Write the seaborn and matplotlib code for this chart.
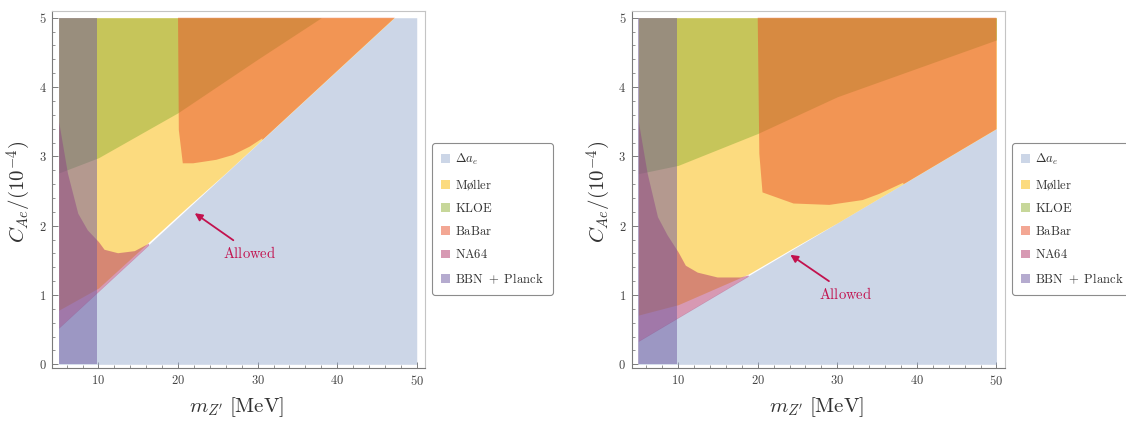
import numpy as np
import matplotlib
matplotlib.use("Agg")
import matplotlib.pyplot as plt
from matplotlib.patches import Patch
from matplotlib.ticker import MultipleLocator, FuncFormatter
import seaborn as sns

# ---------------- data ----------------
labels = [r"$\Delta a_e$", r"$\mathrm{Møller}$", r"$\mathrm{KLOE}$",
          r"$\mathrm{BaBar}$", r"$\mathrm{NA64}$", r"$\mathrm{BBN\ +\ Planck}$"]

# left panel
A_blue_x = [5, 50]
A_blue_y = [0.53, 5.30]
A_moller_x = [5, 10, 16.3, 21, 26, 50]
A_moller_y = [0.78, 1.10, 1.76, 2.25, 2.76, 5.30]
A_na64_x = [5.0, 6.1, 7.4, 8.6, 10.0, 10.7, 12.4, 14.5, 16.3]
A_na64_y = [3.50, 2.76, 2.18, 1.94, 1.77, 1.66, 1.61, 1.64, 1.75]
A_kloe_x = [5, 10, 20, 30, 38, 50]
A_kloe_y = [2.76, 2.98, 3.63, 4.40, 5.00, 5.90]
A_babar_x = [20.0, 20.1, 20.6, 21.9, 24.8, 26.9, 29.0, 30.6]
A_babar_y = [5.00, 3.38, 2.90, 2.90, 2.95, 3.02, 3.14, 3.26]
A_bbn_x = [5, 9.8]
A_arrow = [(26.95, 1.79), (22.1, 2.18)]
A_text = (29.05, 1.60)

# right panel
B_blue_x = [5, 50]
B_blue_y = [0.34, 3.40]
B_moller_x = [5, 10, 18.8, 24, 30, 50]
B_moller_y = [0.71, 0.86, 1.30, 1.648, 2.04, 3.40]
B_na64_x = [5.0, 6.1, 7.4, 8.6, 10.0, 10.9, 12.4, 14.9, 17.8, 18.8]
B_na64_y = [3.50, 2.76, 2.13, 1.87, 1.62, 1.43, 1.33, 1.26, 1.26, 1.29]
B_kloe_x = [5, 10, 20, 30, 50]
B_kloe_y = [2.75, 2.87, 3.33, 3.86, 4.68]
B_babar_x = [20.0, 20.2, 20.6, 24.5, 29.0, 33.2, 35.3, 38.3]
B_babar_y = [5.00, 3.04, 2.48, 2.32, 2.30, 2.37, 2.46, 2.62]
B_bbn_x = [5, 9.8]
B_arrow = [(28.95, 1.20), (24.1, 1.58)]
B_text = (31.0, 1.01)

# ---------------- style ----------------
sns.set_theme(style="white")
plt.rcParams["mathtext.fontset"] = "cm"
plt.rcParams["font.family"] = ["DejaVu Serif"]

C_BLUE = "#9BAFD1"
C_YEL = "#FBB900"
C_KLOE = "#91B036"
C_BABAR = "#E9502A"
C_NA64 = "#B13569"
C_BBN = "#6D59A0"
ALPHA = 0.5
RED = "#C2124E"
AX_GREY = "#7a7a7a"
SEAM = 0.008  # tiny overlap so adjacent antialiased edges leave no white seam

fig = plt.figure(figsize=(11.26, 4.23), dpi=100)
axA = fig.add_axes([52 / 1126, 1 - 368 / 423, 373 / 1126, 357 / 423])
axB = fig.add_axes([631.7 / 1126, 1 - 368 / 423, 373 / 1126, 357 / 423])


def draw_panel(ax, blue_x, blue_y, mol_x, mol_y, na_x, na_y, kl_x, kl_y,
               bb_x, bb_y, bbn_x, arrow, text):
    xg = np.linspace(5, 50, 1801)
    blue = np.interp(xg, blue_x, blue_y)
    # Delta a_e
    ax.fill_between(xg, 0, np.minimum(blue, 5), color=C_BLUE, alpha=ALPHA, lw=0)
    # Moller
    mol = np.minimum(np.interp(xg, mol_x, mol_y), 5)
    ax.fill_between(xg, mol, 5, color=C_YEL, alpha=ALPHA, lw=0)
    # KLOE
    kl = np.minimum(np.interp(xg, kl_x, kl_y), 5)
    ax.fill_between(xg, kl, 5, color=C_KLOE, alpha=ALPHA, lw=0)
    # BaBar polygon: curve then along the Delta a_e line
    xl = np.linspace(bb_x[-1], 50, 400)
    yl = np.minimum(np.interp(xl, blue_x, blue_y) - SEAM, 5)
    px = list(bb_x) + list(xl) + [50, bb_x[0]]
    py = list(bb_y) + list(yl) + [5, 5]
    ax.fill(px, py, color=C_BABAR, alpha=ALPHA, lw=0)
    # NA64
    m = xg <= na_x[-1]
    ax.fill_between(xg[m], blue[m] - SEAM, np.interp(xg[m], na_x, na_y),
                    color=C_NA64, alpha=ALPHA, lw=0)
    # BBN + Planck
    ax.fill_between(bbn_x, 0, 5, color=C_BBN, alpha=ALPHA, lw=0)

    ax.annotate("", xy=arrow[1], xytext=arrow[0],
                arrowprops=dict(arrowstyle="-|>", color=RED, lw=1.3,
                                mutation_scale=11, shrinkA=0, shrinkB=0))
    ax.text(text[0], text[1], r"$\mathrm{Allowed}$", color=RED, fontsize=10.5,
            ha="center", va="center")

    ax.set_xlim(4.16, 51.04)
    ax.set_ylim(-0.053, 5.097)
    ax.xaxis.set_major_locator(MultipleLocator(10))
    ax.xaxis.set_minor_locator(MultipleLocator(2))
    ax.yaxis.set_major_locator(MultipleLocator(1))
    ax.yaxis.set_minor_locator(MultipleLocator(0.2))
    fmt = FuncFormatter(lambda v, p: f"${int(round(v))}$")
    ax.xaxis.set_major_formatter(fmt)
    ax.yaxis.set_major_formatter(fmt)
    ax.tick_params(which="both", direction="in", bottom=True, left=True,
                   top=False, right=False, colors="#666666", labelsize=9,
                   labelcolor="#444444")
    ax.tick_params(which="major", length=4.5, width=0.6, pad=4)
    ax.tick_params(which="minor", length=2.5, width=0.5)
    for s in ["left", "bottom"]:
        ax.spines[s].set_color(AX_GREY)
        ax.spines[s].set_linewidth(0.8)
    for s in ["top", "right"]:
        ax.spines[s].set_color("#c4c4c4")
        ax.spines[s].set_linewidth(0.8)
    ax.set_xlabel(r"$m_{Z'}\;[\mathrm{MeV}]$", fontsize=15, color="#333333")
    ax.set_ylabel(r"$C_{Ae}/(10^{-4})$", fontsize=15, color="#333333")
    ax.xaxis.set_label_coords(0.496, -0.075)
    ax.yaxis.set_label_coords(-0.05, 0.494)


draw_panel(axA, A_blue_x, A_blue_y, A_moller_x, A_moller_y, A_na64_x, A_na64_y,
           A_kloe_x, A_kloe_y, A_babar_x, A_babar_y, A_bbn_x, A_arrow, A_text)
draw_panel(axB, B_blue_x, B_blue_y, B_moller_x, B_moller_y, B_na64_x, B_na64_y,
           B_kloe_x, B_kloe_y, B_babar_x, B_babar_y, B_bbn_x, B_arrow, B_text)

swatches = [C_BLUE, C_YEL, C_KLOE, C_BABAR, C_NA64, C_BBN]
handles = [Patch(facecolor=c, alpha=ALPHA, edgecolor="none") for c in swatches]
for x0 in [432 / 1126, 1012 / 1126]:
    leg = fig.legend(handles, labels, loc="upper left",
                     bbox_to_anchor=(x0, 1 - 143 / 423), fontsize=9.1,
                     handlelength=0.7, handleheight=0.7, handletextpad=0.45,
                     labelspacing=0.8, borderpad=0.7, borderaxespad=0,
                     frameon=True, fancybox=True, edgecolor="#8c8c8c",
                     framealpha=1)
    leg.get_frame().set_linewidth(0.8)
    for t in leg.get_texts():
        t.set_color("#333333")

fig.savefig("out.png", dpi=100)
